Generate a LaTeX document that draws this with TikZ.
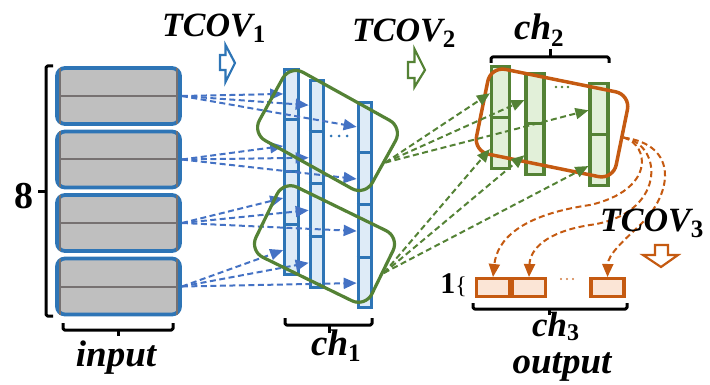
\documentclass[tikz,border=0pt]{standalone}
\usepackage{fontspec}
\setmainfont{Liberation Serif}
\usetikzlibrary{calc,arrows.meta}
\definecolor{bbox}{HTML}{2E75B6}
\definecolor{barr}{HTML}{4472C4}
\definecolor{bfill}{HTML}{DEEBF7}
\definecolor{gline}{HTML}{548235}
\definecolor{gfill}{HTML}{E2F0D9}
\definecolor{oline}{HTML}{C55A11}
\definecolor{ofill}{HTML}{FBE5D6}
\definecolor{grayA}{HTML}{BFBFBF}
\definecolor{grayB}{HTML}{767171}
\newcommand{\lbl}{\fontsize{34}{36}\selectfont\bfseries\itshape}
\newcommand{\lblw}{\fontsize{37}{40}\selectfont\bfseries\itshape}
\newcommand{\lsub}[1]{\raisebox{-0.17em}{\fontsize{25}{25}\selectfont\upshape\bfseries #1}}
\begin{document}
\begin{tikzpicture}[x=1pt,y=-1pt,
 inbox/.style={draw=bbox, line width=3.8pt, fill=grayA, rounded corners=8pt, minimum width=123pt, minimum height=56pt, inner sep=0pt},
 colb/.style={draw=bbox, line width=3.2pt, fill=bfill, minimum width=13.5pt, inner sep=0pt},
 colg/.style={draw=gline, line width=3.2pt, fill=gfill, minimum width=18pt, inner sep=0pt},
 outbox/.style={draw=oline, line width=3.2pt, fill=ofill, minimum width=33pt, minimum height=17.8pt, inner sep=0pt},
 gbox/.style={draw=gline, line width=3.2pt, rounded corners=15pt, minimum width=129pt, minimum height=78pt, inner sep=0pt},
 orbox/.style={draw=oline, line width=3.5pt, rounded corners=15pt, minimum width=142.5pt, minimum height=86.5pt, inner sep=0pt},
 barrow/.style={draw=barr, line width=2pt, dash pattern=on 6pt off 3.5pt, -{Triangle[length=13pt,width=11pt]}},
 garrow/.style={draw=gline, line width=2pt, dash pattern=on 6pt off 3.5pt, -{Triangle[length=13pt,width=11pt]}},
 oarrow/.style={draw=oline, line width=2pt, dash pattern=on 6pt off 3.5pt, -{Triangle[length=13pt,width=11pt]}},
 brk/.style={line width=3pt, black, line join=round, rounded corners=1.5pt},
 grayline/.style={draw=grayB, line width=2pt},
]
\useasboundingbox (0,0) rectangle (710,385);

% input boxes
\foreach \i/\y in {0/96,1/159.5,2/223,3/286.5}{
  \node[inbox] (in\i) at (118.5,\y) {};
  \draw[grayline] ($(in\i.north west)+(5.25,1.9)$) -- ($(in\i.south west)+(5.25,-1.9)$);
  \draw[grayline] ($(in\i.north east)+(-5.25,1.9)$) -- ($(in\i.south east)+(-5.25,-1.9)$);
  \draw[grayline] ($(in\i.west)+(5.25,0)$) -- ($(in\i.east)+(-5.25,0)$);
}

% ch1 columns
\node[colb, minimum height=205pt] (c1) at (291.5,172) {};
\node[colb, minimum height=207pt] (c2) at (317,184) {};
\node[colb, minimum height=205pt] (c3) at (365,205) {};
\foreach \c in {c1,c2,c3}{
  \foreach \f in {0.25,0.5,0.75}{
    \draw[draw=bbox, line width=3pt] ($(\c.north west)!\f!(\c.south west)$) -- ($(\c.north east)!\f!(\c.south east)$);
  }
}
\foreach \x in {331,339,347}{ \fill[bbox] (\x,136) circle (1.5pt); }

% blue arrows
\foreach \i/\f in {0/0.125,1/0.375,2/0.625,3/0.875}{
  \foreach \c in {c1,c2,c3}{
    \draw[barrow] (in\i.east) -- ($(\c.north west)!\f!(\c.south west)$);
  }
}

% green boxes
\node[gbox, rotate=-29] (g1) at (327.5,130.5) {};
\node[gbox, rotate=-26] (g2) at (324.5,244) {};

% ch2 columns
\node[colg, minimum height=102pt] (a1) at (500.5,117.5) {};
\node[colg, minimum height=101pt] (a2) at (535,124) {};
\node[colg, minimum height=102pt] (a3) at (599,134.5) {};
\foreach \c in {a1,a2,a3}{
  \draw[draw=gline, line width=3pt] (\c.west) -- (\c.east);
}
\foreach \x in {556,562,568}{ \fill[gline] (\x,87) circle (1.4pt); }

% orange box
\node[orbox, rotate=-11.5] (ob) at (552,123) {};

% green arrows
\foreach \c in {a1,a2,a3}{
  \draw[garrow] (g1.east) -- ($(\c.north west)!0.27!(\c.south west)$);
  \draw[garrow] (g2.east) -- ($(\c.north west)!0.8!(\c.south west)$);
}

% outputs
\node[outbox] (o1) at (493,287.5) {};
\node[outbox] (o2) at (529,287.5) {};
\node[outbox] (o3) at (607.5,287.5) {};
\foreach \x in {561,567,573}{ \fill[oline!80] (\x,279) circle (1.2pt); }

% orange arrows
\draw[oarrow] (ob.east) .. controls (650,145) and (655,190) .. (590,205) .. controls (520,215) and (497,240) .. (o1.north);
\draw[oarrow] (ob.east) .. controls (665,145) and (665,215) .. (590,225) .. controls (545,232) and (530,250) .. (o2.north);
\draw[oarrow] (ob.east) .. controls (680,145) and (672,195) .. (640,225) .. controls (622,242) and (608,255) .. (o3.north);

% brackets
\draw[brk] (53,66) -- (46,66) -- (46,316) -- (53,316);
\draw[brk] (46,192) -- (38,192);
\draw[brk] (63,323) -- (63,330) -- (173,330) -- (173,323);
\draw[brk] (118,330) -- (118,336);
\draw[brk] (285,318) -- (285,325) -- (372,325) -- (372,318);
\draw[brk] (329,325) -- (329,333);
\draw[brk] (491,63) -- (491,57) -- (609,57) -- (609,63);
\draw[brk] (550,57) -- (550,49);
\draw[brk] (473,303) -- (473,309) -- (627,309) -- (627,303);
\draw[brk] (549,309) -- (549,315);

% block arrows
\draw[draw=bbox, line width=2.2pt, fill=white, line join=miter] (220,55) -- (225.5,55) -- (225.5,45) -- (235,63) -- (225.5,82) -- (225.5,70) -- (220,70) -- cycle;
\draw[draw=gline, line width=2.2pt, fill=white, line join=miter] (408,62) -- (414.5,62) -- (414.5,49) -- (425,70) -- (414.5,87) -- (414.5,78) -- (408,78) -- cycle;
\draw[draw=oline, line width=2.2pt, fill=white, line join=miter] (655,245) -- (668,245) -- (668,255) -- (678,255) -- (661,267) -- (643,255) -- (655,255) -- cycle;

% labels
\node[anchor=base west, inner sep=0pt] (t1) at (162,37) {\lbl TCOV\lsub{1}};
\node[anchor=base west, inner sep=0pt] (t2) at (352,42) {\lbl TCOV\lsub{2}};
\node[anchor=base west, inner sep=0pt] (t3) at (600,232) {\lbl TCOV\lsub{3}};
\node[anchor=base west, inner sep=0pt] (l1) at (311,355) {\lblw ch\lsub{1}};
\node[anchor=base west, inner sep=0pt] (l2) at (514,40) {\lblw ch\lsub{2}};
\node[anchor=base west, inner sep=0pt] (l3) at (532,336) {\fontsize{35}{38}\selectfont\bfseries\itshape ch\raisebox{-0.12em}{\fontsize{24}{24}\selectfont\upshape\bfseries 3}};
\node[anchor=base, inner sep=0pt] (lout) at (562,373) {\lblw output};
\node[anchor=base, inner sep=0pt] (lin) at (116,366) {\lblw input};
\node[inner sep=0pt, font=\fontsize{38}{38}\selectfont\bfseries] (n8) at (24,196) {8};
\node[anchor=base east, inner sep=0pt] (n1) at (467,293) {{\fontsize{30}{30}\selectfont\bfseries 1}{\fontsize{24}{24}\selectfont\{}};
\end{tikzpicture}
\end{document}
